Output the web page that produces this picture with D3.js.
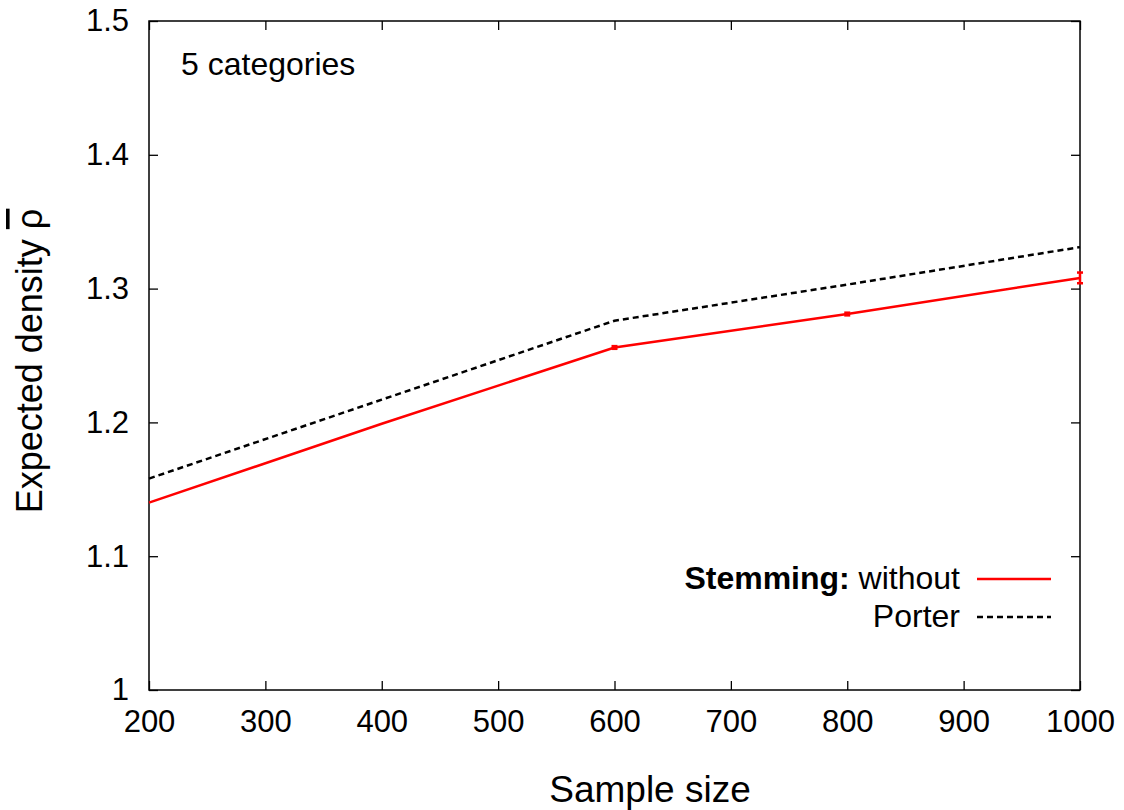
<!DOCTYPE html>
<html>
<head>
<meta charset="utf-8">
<script src="https://cdn.jsdelivr.net/npm/d3@7"></script>
<style>
  body { margin: 0; background: #fff; }
  text { font-family: "Liberation Sans", Arial, sans-serif; fill: #000; }
</style>
</head>
<body>
<svg id="chart" width="1124" height="810"></svg>
<script>
// sample sizes
var sizes = [200, 400, 600, 800, 1000];
// expected density, no stemming (with small error bars)
var without = [1.140, 1.199, 1.256, 1.281, 1.308];
var withoutErr = [0, 0, 0.001, 0.001, 0.004];
// expected density, Porter stemmer
var porter = [1.158, 1.217, 1.276, 1.303, 1.331];

var xTicks = [200, 300, 400, 500, 600, 700, 800, 900, 1000];
var yTicks = [1, 1.1, 1.2, 1.3, 1.4, 1.5];

var svg = d3.select("#chart");
var margin = {left: 149, top: 21, right: 44, bottom: 120};
var width = 1124 - margin.left - margin.right,
  height = 810 - margin.top - margin.bottom;

var x = d3.scaleLinear().domain([200, 1000]).range([0, width]);
var y = d3.scaleLinear().domain([1, 1.5]).range([height, 0]);

var g = svg.append("g").attr("transform", "translate(" + margin.left + "," + margin.top + ")");

// inward ticks on all four sides
function tickStyle(sel) {
  sel.select(".domain").remove();
  sel.selectAll(".tick line").attr("stroke", "#000").attr("stroke-width", 1.3);
  sel.selectAll(".tick text").style("font-size", "31px").attr("fill", "#000");
}
var fmtY = function(d) { return d === 1 ? "1" : d3.format(".1f")(d); };

g.append("g").attr("transform", "translate(0," + height + ")")
  .call(d3.axisBottom(x).tickValues(xTicks).tickSize(-9).tickPadding(20).tickFormat(d3.format("d")))
  .call(tickStyle);
g.append("g")
  .call(d3.axisTop(x).tickValues(xTicks).tickSize(-9).tickFormat(""))
  .call(tickStyle);
g.append("g")
  .call(d3.axisLeft(y).tickValues(yTicks).tickSize(-9).tickPadding(20).tickFormat(fmtY))
  .call(tickStyle);
g.append("g").attr("transform", "translate(" + width + ",0)")
  .call(d3.axisRight(y).tickValues(yTicks).tickSize(-9).tickFormat(""))
  .call(tickStyle);

// frame
g.append("rect")
  .attr("width", width).attr("height", height)
  .attr("fill", "none").attr("stroke", "#000").attr("stroke-width", 1.5);

var line = d3.line()
  .x(function(d) { return x(d[0]); })
  .y(function(d) { return y(d[1]); });

g.append("path")
  .datum(d3.zip(sizes, porter))
  .attr("d", line)
  .attr("fill", "none").attr("stroke", "#000")
  .attr("stroke-width", 2.5).attr("stroke-dasharray", "6,4");

g.append("path")
  .datum(d3.zip(sizes, without))
  .attr("d", line)
  .attr("fill", "none").attr("stroke", "#f00").attr("stroke-width", 2.5);

// error bars
var eb = g.append("g").attr("stroke", "#f00").attr("stroke-width", 2.5);
sizes.forEach(function(s, i) {
  if (!withoutErr[i]) return;
  var y0 = y(without[i] - withoutErr[i]), y1 = y(without[i] + withoutErr[i]);
  eb.append("line").attr("x1", x(s)).attr("x2", x(s)).attr("y1", y0).attr("y2", y1);
  eb.append("line").attr("x1", x(s) - 3).attr("x2", x(s) + 3).attr("y1", y0).attr("y2", y0);
  eb.append("line").attr("x1", x(s) - 3).attr("x2", x(s) + 3).attr("y1", y1).attr("y2", y1);
});

// annotation
g.append("text").attr("x", 32).attr("y", 54).style("font-size", "32px").text("5 categories");

// legend
var lg = g.append("g").attr("transform", "translate(" + (width - 120) + ",0)");
var t1 = lg.append("text").attr("x", 0).attr("y", 568).attr("text-anchor", "end").style("font-size", "32px");
t1.append("tspan").style("font-weight", "bold").text("Stemming:");
t1.append("tspan").text(" without");
lg.append("line").attr("x1", 17).attr("x2", 91).attr("y1", 558).attr("y2", 558)
  .attr("stroke", "#f00").attr("stroke-width", 2.5);
lg.append("text").attr("x", 0).attr("y", 606).attr("text-anchor", "end").style("font-size", "32px").text("Porter");
lg.append("line").attr("x1", 17).attr("x2", 91).attr("y1", 596).attr("y2", 596)
  .attr("stroke", "#000").attr("stroke-width", 2.5).attr("stroke-dasharray", "6,4");

// axis titles
svg.append("text")
  .attr("x", 650).attr("y", 802)
  .attr("text-anchor", "middle").style("font-size", "37px").text("Sample size");
var yl = svg.append("text")
  .attr("transform", "translate(42,361) rotate(-90)")
  .attr("text-anchor", "middle").style("font-size", "36px");
yl.append("tspan").text("Expected density ");
yl.append("tspan").style("text-decoration", "overline").text("\u03C1");
</script>
</body>
</html>
